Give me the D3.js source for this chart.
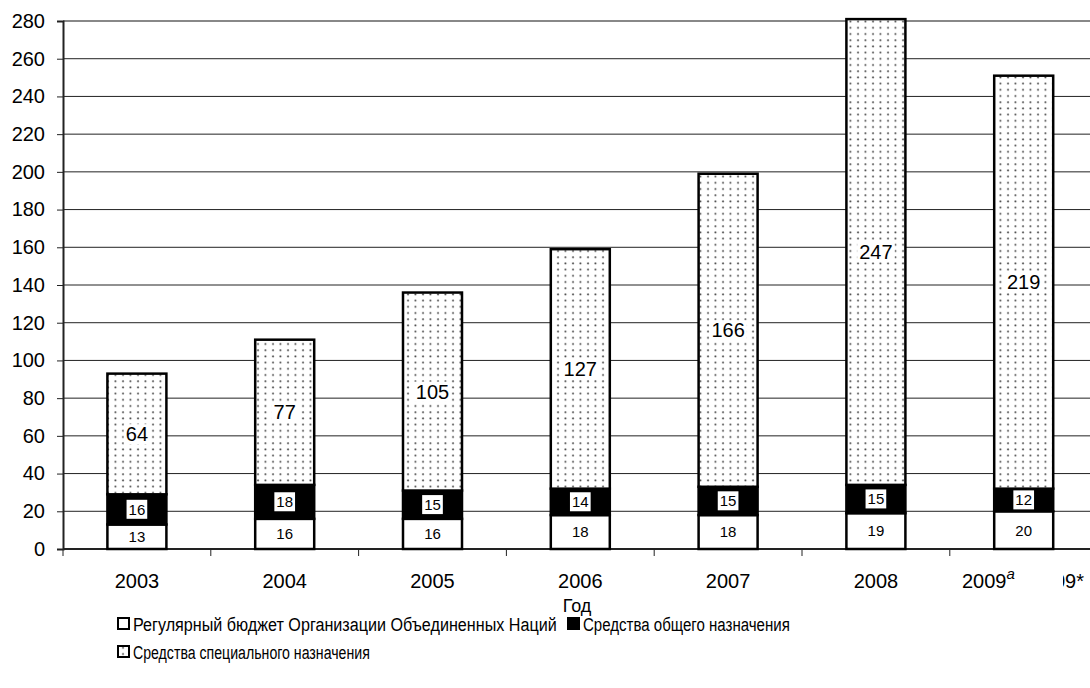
<!DOCTYPE html>
<html>
<head>
<meta charset="utf-8">
<script src="https://cdn.jsdelivr.net/npm/d3@7"></script>
<style>
  body { margin: 0; background: #fff; }
  text { font-family: "Liberation Sans", Arial, sans-serif; fill: #000; }
</style>
</head>
<body>
<div id="chart-area"></div>
<script>
const years = ['2003', '2004', '2005', '2006', '2007', '2008', '2009']
const regular = [13, 16, 16, 18, 18, 19, 20]
const general = [16, 18, 15, 14, 15, 15, 12]
const special = [64, 77, 105, 127, 166, 247, 219]
const yTicks = [0, 20, 40, 60, 80, 100, 120, 140, 160, 180, 200, 220, 240, 260, 280]
const legendLabels = [
    'Регулярный бюджет Организации Объединенных Наций',
    'Средства общего назначения',
    'Средства специального назначения'
]

const W = 1090, H = 688
const margin = { left: 63, top: 21, right: 0, bottom: 139 }
const FONT = '"Liberation Sans", Arial, sans-serif'

const svg = d3.select('#chart-area').append('svg')
    .attr('width', W)
    .attr('height', H)

// dotted fill for the special funds
const pat = svg.append('defs').append('pattern')
    .attr('id', 'dots')
    .attr('patternUnits', 'userSpaceOnUse')
    .attr('width', 7.5)
    .attr('height', 6.2)
pat.append('rect').attr('width', 7.5).attr('height', 6.2).attr('fill', '#fff')
pat.append('circle').attr('cx', 3).attr('cy', 3).attr('r', 0.95).attr('fill', '#444')

const x = d3.scaleBand()
    .domain(years)
    .range([margin.left, margin.left + 7 * 147.8])

const y = d3.scaleLinear()
    .domain([0, 280])
    .range([H - margin.bottom, margin.top])

// gridlines
svg.append('g').selectAll('line').data(yTicks.filter(d => d > 0)).enter()
    .append('line')
    .attr('x1', margin.left).attr('x2', W)
    .attr('y1', d => y(d)).attr('y2', d => y(d))
    .attr('stroke', d => d === 280 ? '#888' : '#222')
    .attr('stroke-width', d => d === 280 ? 2 : 1)

// y axis
const yAxis = svg.append('g')
    .attr('transform', `translate(${margin.left},0)`)
    .call(d3.axisLeft(y).tickValues(yTicks).tickSize(6).tickPadding(12))
yAxis.attr('font-family', FONT).attr('font-size', 20)
yAxis.select('.domain').attr('stroke', '#222').attr('stroke-width', 2)
yAxis.selectAll('.tick line').attr('stroke', '#222')
yAxis.selectAll('text').attr('fill', '#000')

// x axis (ticks at band boundaries)
const xAxisG = svg.append('g')
    .attr('transform', `translate(0,${y(0)})`)
xAxisG.append('line')
    .attr('x1', margin.left).attr('x2', W)
    .attr('stroke', '#222').attr('stroke-width', 2)
xAxisG.selectAll('.tk').data(years).enter()
    .append('line')
    .attr('x1', d => x(d)).attr('x2', d => x(d))
    .attr('y1', 0).attr('y2', 7)
    .attr('stroke', '#222')

// stacked bars
const bw = 59
const rows = years.map((yr, i) => ({
    year: yr,
    segs: [
        { v: regular[i], y0: 0, y1: regular[i], fill: '#fff', small: true },
        { v: general[i], y0: regular[i], y1: regular[i] + general[i], fill: '#000', small: true },
        { v: special[i], y0: regular[i] + general[i], y1: regular[i] + general[i] + special[i], fill: 'url(#dots)', small: false }
    ]
}))

const barG = svg.append('g')
rows.forEach(r => {
    const cx = x(r.year) + x.bandwidth() / 2
    r.segs.forEach(s => {
        barG.append('rect')
            .attr('x', cx - bw / 2)
            .attr('y', y(s.y1))
            .attr('width', bw)
            .attr('height', y(s.y0) - y(s.y1))
            .attr('fill', s.fill)
            .attr('stroke', '#000')
            .attr('stroke-width', 2.5)
    })
})

// value labels with white boxes
const labG = svg.append('g')
rows.forEach(r => {
    const cx = x(r.year) + x.bandwidth() / 2
    r.segs.forEach(s => {
        const cy = y((s.y0 + s.y1) / 2)
        const fs = s.small ? 15 : 20
        const t = labG.append('text')
            .attr('x', cx)
            .attr('y', cy)
            .attr('dy', '0.36em')
            .attr('text-anchor', 'middle')
            .attr('font-size', fs + 'px')
            .text(s.v)
        const bb = t.node().getBBox()
        labG.insert('rect', () => t.node())
            .attr('x', bb.x - 2)
            .attr('y', bb.y + (s.small ? -1 : 1))
            .attr('width', bb.width + 4)
            .attr('height', bb.height + (s.small ? 2 : -2))
            .attr('fill', '#fff')
    })
})

// category labels
const catG = svg.append('g')
years.slice(0, 6).forEach(yr => {
    catG.append('text')
        .attr('x', x(yr) + x.bandwidth() / 2)
        .attr('y', 588)
        .attr('text-anchor', 'middle')
        .attr('font-size', '20px')
        .text(yr)
})
// last label: an older "2009*" sits behind the "2009a" label
catG.append('text')
    .attr('x', 1084)
    .attr('y', 588)
    .attr('text-anchor', 'end')
    .attr('font-size', '20px')
    .text('2009*')
catG.append('rect')
    .attr('x', 955).attr('y', 560)
    .attr('width', 108).attr('height', 34)
    .attr('fill', '#fff')
const lastLab = catG.append('text')
    .attr('x', 962)
    .attr('y', 588)
    .attr('font-size', '20px')
lastLab.append('tspan').text('2009')
lastLab.append('tspan')
    .attr('dy', -9)
    .attr('font-size', '15px')
    .attr('font-style', 'italic')
    .text('a')

// axis title
svg.append('text')
    .attr('x', 577)
    .attr('y', 612)
    .attr('text-anchor', 'middle')
    .attr('font-size', '18px')
    .text('Год')

// legend: the source uses a condensed face, so squeeze the text horizontally
const legendFills = ['#fff', '#000', 'url(#dots)']
const legendPos = [[118, 631], [568, 631], [118, 659]]
const legendWidths = [424, 207, 237]
const legG = svg.append('g')
legendLabels.forEach((lab, i) => {
    const [lx, ly] = legendPos[i]
    legG.append('rect')
        .attr('x', lx).attr('y', ly - 13)
        .attr('width', 11).attr('height', 11)
        .attr('fill', legendFills[i])
        .attr('stroke', '#000')
        .attr('stroke-width', 2)
    const tg = legG.append('g')
    const t = tg.append('text')
        .attr('font-size', '19px')
        .text(lab)
    const sx = legendWidths[i] / t.node().getComputedTextLength()
    tg.attr('transform', `translate(${lx + 15},${ly}) scale(${sx},1)`)
})
</script>
</body>
</html>
